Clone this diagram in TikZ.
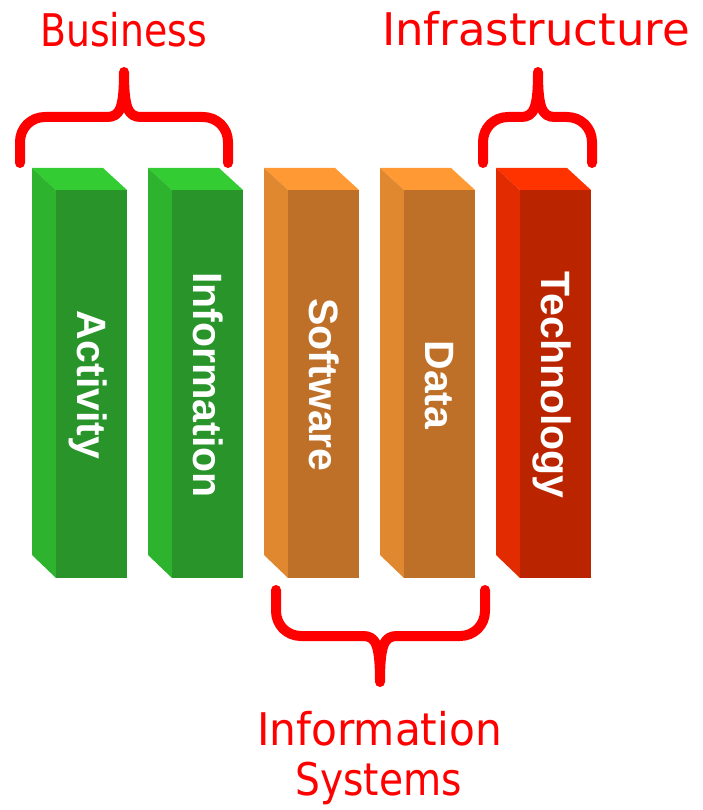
\documentclass[tikz,border=0pt]{standalone}
\usepackage{fontspec}
\newfontfamily\barfont{Liberation Sans}
\newfontfamily\handfont{DejaVu Sans}
\usetikzlibrary{shapes}
\definecolor{topg}{HTML}{33CC33}
\definecolor{sideg}{HTML}{2DB32D}
\definecolor{frontg}{HTML}{28942A}
\definecolor{topo}{HTML}{FF9933}
\definecolor{sideo}{HTML}{E0882F}
\definecolor{fronto}{HTML}{BE7028}
\definecolor{topr}{HTML}{FF3300}
\definecolor{sider}{HTML}{E22B00}
\definecolor{frontr}{HTML}{BA2500}
\definecolor{bracered}{HTML}{FF0000}
\tikzstyle{bartext}=[text=white, font=\barfont\bfseries\fontsize{41}{41}\selectfont, rotate=-90, anchor=base, inner sep=0pt]
\tikzstyle{brace}=[draw=bracered, line width=10pt, line cap=round, line join=round]
\tikzstyle{title}=[text=bracered, font=\handfont\fontsize{45}{45}\selectfont, anchor=base, inner sep=0pt]

\begin{document}
\begin{tikzpicture}[x=1pt, y=-1pt]
    \useasboundingbox (0,0) rectangle (703,810);

    \def\dx{24};
    \def\dy{22};

    % the five bars
    \foreach \x/\col/\name/\txt in {56/g/act/Activity, 172/g/inf/Information, 288/o/soft/Software, 404/o/data/Data, 520/r/tech/Technology}
    {
        \fill[fill=top\col] (\x-\dx,190-\dy) -- (\x+47,190-\dy) -- (\x+71,190) -- (\x,190) -- cycle;
        \fill[fill=side\col] (\x-\dx,190-\dy) -- (\x,190) -- (\x,578) -- (\x-\dx,555) -- cycle;
        \fill[fill=front\col] (\x,190) rectangle (\x+71,578);
        \node[bartext] (\name) at (\x+21,385) {\txt};
    }

    % braces above
    \foreach \xl/\xm/\xr in {20/124/228, 483/538/592}
        \draw[brace] (\xl,163) -- (\xl,142) .. controls (\xl,128) and (\xl+11,117) .. (\xl+25,117) -- (\xm-17,117)
            .. controls (\xm-4,117) and (\xm,108) .. (\xm,72)
            .. controls (\xm,108) and (\xm+4,117) .. (\xm+17,117) -- (\xr-25,117)
            .. controls (\xr-11,117) and (\xr,128) .. (\xr,142) -- (\xr,163);

    % brace below
    \draw[brace] (276,590) -- (276,611) .. controls (276,625) and (287,636) .. (301,636) -- (363,636)
        .. controls (376,636) and (380,645) .. (380,682)
        .. controls (380,645) and (384,636) .. (397,636) -- (460,636)
        .. controls (474,636) and (485,625) .. (485,611) -- (485,590);

    \node[title, xscale=0.84] (business) at (123.5,47) {Business};
    \node[title] (infra) at (536,46) {Infrastructure};
    \node[title, xscale=0.94] (infosys) at (379.5,745) {Information};
    \node[title, xscale=0.87] (systems) at (378.5,795) {Systems};

\end{tikzpicture}
\end{document}
